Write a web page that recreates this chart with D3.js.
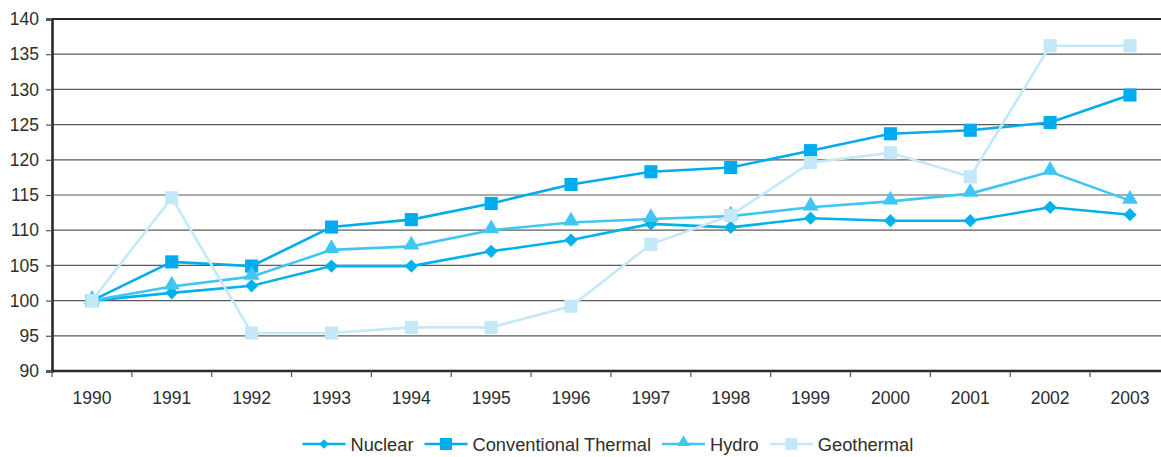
<!DOCTYPE html>
<html>
<head>
<meta charset="utf-8">
<script src="https://cdn.jsdelivr.net/npm/d3@7"></script>
<style>
  html, body { margin: 0; padding: 0; background: #fff; }
  svg { display: block; font-family: "Liberation Sans", Arial, sans-serif; }
</style>
</head>
<body>
<svg id="chart" width="1161" height="457"></svg>
<script>
// Index of electricity generation by source (1990 = 100)
const years = ["1990","1991","1992","1993","1994","1995","1996","1997","1998","1999","2000","2001","2002","2003"];
const nuclear     = [100, 101.1, 102.1, 104.9, 104.9, 107.0, 108.6, 110.9, 110.4, 111.7, 111.35, 111.35, 113.25, 112.2];
const conventional= [100, 105.5, 104.9, 110.45, 111.5, 113.8, 116.5, 118.3, 118.9, 121.3, 123.7, 124.2, 125.3, 129.2];
const hydro       = [100, 102.0, 103.4, 107.2, 107.7, 110.0, 111.1, 111.6, 112.0, 113.25, 114.1, 115.2, 118.3, 114.2];
const geothermal  = [100, 114.6, 95.4, 95.4, 96.2, 96.2, 99.2, 108.0, 112.1, 119.6, 121.0, 117.6, 136.2, 136.2];
const yTicks = [90, 95, 100, 105, 110, 115, 120, 125, 130, 135, 140];

const series = [
  { name: "Nuclear", values: nuclear, color: "#00b2ea", symbol: d3.symbolDiamond2, size: 112, legendSize: 60, dy: 0 },
  { name: "Conventional Thermal", values: conventional, color: "#00acec", symbol: d3.symbolSquare, size: 172, legendSize: 145, dy: 0 },
  { name: "Hydro", values: hydro, color: "#40c6f2", symbol: d3.symbolTriangle, size: 110, legendSize: 68, dy: -1.5 },
  { name: "Geothermal", values: geothermal, color: "#c5e8f8", symbol: d3.symbolSquare, size: 172, legendSize: 140, dy: 0 }
];

const svg = d3.select("#chart");
const plotLeft = 52, plotTop = 19, plotBottom = 371, bandW = 79.85;
const plotRight = plotLeft + bandW * years.length;

const x = d3.scaleBand().domain(years).range([plotLeft, plotRight]);
const y = d3.scaleLinear().domain([90, 140]).range([plotBottom, plotTop]);

// horizontal gridlines
svg.append("g")
  .selectAll("line")
  .data(yTicks.filter(t => t !== 90 && t !== 140))
  .join("line")
  .attr("x1", plotLeft).attr("x2", plotRight)
  .attr("y1", d => y(d)).attr("y2", d => y(d))
  .attr("stroke", "#5a5a5a").attr("stroke-width", 1.2);

// top border
svg.append("line")
  .attr("x1", plotLeft).attr("x2", plotRight)
  .attr("y1", y(140)).attr("y2", y(140))
  .attr("stroke", "#2a2a2a").attr("stroke-width", 2.2);

// y axis
const yAxis = svg.append("g")
  .attr("transform", `translate(${plotLeft},0)`)
  .call(d3.axisLeft(y).tickValues(yTicks).tickSize(6).tickPadding(7));
yAxis.select(".domain").attr("stroke", "#2a2a2a").attr("stroke-width", 2.6);
yAxis.selectAll(".tick line").attr("stroke", "#555").attr("stroke-width", 1.2);
yAxis.selectAll(".tick text").attr("font-size", 17.5).attr("fill", "#2e2e2e")
  .attr("font-family", "Liberation Sans, Arial, sans-serif");

// x axis with ticks on band boundaries
const xAxis = svg.append("g").attr("transform", `translate(0,${plotBottom})`);
xAxis.append("line")
  .attr("x1", plotLeft).attr("x2", plotRight)
  .attr("stroke", "#2a2a2a").attr("stroke-width", 2.6);
xAxis.selectAll("line.bt")
  .data(years)
  .join("line").attr("class", "bt")
  .attr("x1", d => x(d)).attr("x2", d => x(d))
  .attr("y1", 0).attr("y2", 6)
  .attr("stroke", "#555").attr("stroke-width", 1.2);
xAxis.selectAll("text")
  .data(years)
  .join("text")
  .attr("x", d => x(d) + x.bandwidth() / 2)
  .attr("y", 33)
  .attr("text-anchor", "middle")
  .attr("font-size", 17.5).attr("fill", "#2e2e2e")
  .text(d => d);

// series lines and markers, later series on top
const line = d3.line()
  .x((d, i) => x(years[i]) + x.bandwidth() / 2)
  .y(d => y(d));

series.forEach(s => {
  const g = svg.append("g");
  g.append("path")
    .attr("d", line(s.values))
    .attr("fill", "none")
    .attr("stroke", s.color)
    .attr("stroke-width", 2.6);
  g.selectAll("path.m")
    .data(s.values)
    .join("path").attr("class", "m")
    .attr("d", d3.symbol().type(s.symbol).size(s.size))
    .attr("transform", (d, i) => `translate(${x(years[i]) + x.bandwidth() / 2},${y(d) + s.dy})`)
    .attr("fill", s.color);
});

// legend
const legend = svg.append("g").attr("transform", "translate(0,444)");
let lx = 302.5;
series.forEach(s => {
  const item = legend.append("g");
  item.append("line")
    .attr("x1", lx).attr("x2", lx + 43)
    .attr("stroke", s.color).attr("stroke-width", 2.6);
  item.append("path")
    .attr("d", d3.symbol().type(s.symbol).size(s.legendSize))
    .attr("transform", `translate(${lx + 21.5},${s.dy})`)
    .attr("fill", s.color);
  const t = item.append("text")
    .attr("x", lx + 48)
    .attr("y", 6.5)
    .attr("font-size", 18.3).attr("fill", "#2e2e2e")
    .text(s.name);
  lx += 48 + t.node().getComputedTextLength() + 11;
});
</script>
</body>
</html>
